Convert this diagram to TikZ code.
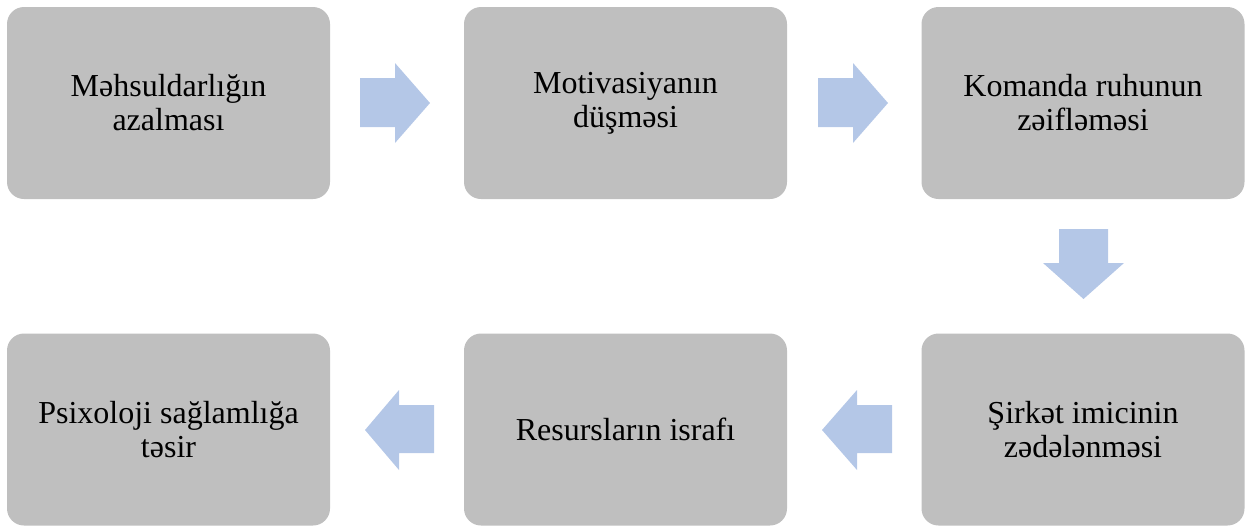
\documentclass[tikz,border=0pt]{standalone}
\usepackage{fontspec}
\setmainfont{Liberation Serif}
\begin{document}
\begin{tikzpicture}[x=0.5pt,y=-0.5pt,
  boxst/.style={fill=boxgray,rounded corners=8.5pt,inner sep=0pt,minimum width=161.5pt,minimum height=96pt,align=center,font=\fontsize{16}{17}\selectfont},
  arrowst/.style={fill=arrowblue,draw=none}]
\definecolor{boxgray}{HTML}{BFBFBF}
\definecolor{arrowblue}{HTML}{B4C7E7}
\useasboundingbox (0,0) rectangle (1252,526);
\node[boxst] (b1) at (168.5,103) {Məhsuldarlığın\\azalması};
\node[boxst] (b2) at (625.5,103) {Motivasiyanın\\düşməsi};
\node[boxst] (b3) at (1083,103) {Komanda ruhunun\\zəifləməsi};
\node[boxst] (b4) at (1083,429.5) {Şirkət imicinin\\zədələnməsi};
\node[boxst] (b5) at (625.5,429.5) {Resursların israfı};
\node[boxst] (b6) at (168.5,429.5) {Psixoloji sağlamlığa\\təsir};
% right arrows
\fill[arrowst] (360,78) -- (395,78) -- (395,63) -- (430,103) -- (395,143) -- (395,127) -- (360,127) -- cycle;
\fill[arrowst] (818,78) -- (853,78) -- (853,63) -- (888,103) -- (853,143) -- (853,127) -- (818,127) -- cycle;
% down arrow
\fill[arrowst] (1059,229) -- (1108,229) -- (1108,263) -- (1124,263) -- (1083.5,299) -- (1043,263) -- (1059,263) -- cycle;
% left arrows
\fill[arrowst] (892,405) -- (857,405) -- (857,390) -- (822,430) -- (857,470) -- (857,453) -- (892,453) -- cycle;
\fill[arrowst] (434,405) -- (399,405) -- (399,390) -- (365,430) -- (399,470) -- (399,453) -- (434,453) -- cycle;
\end{tikzpicture}
\end{document}
